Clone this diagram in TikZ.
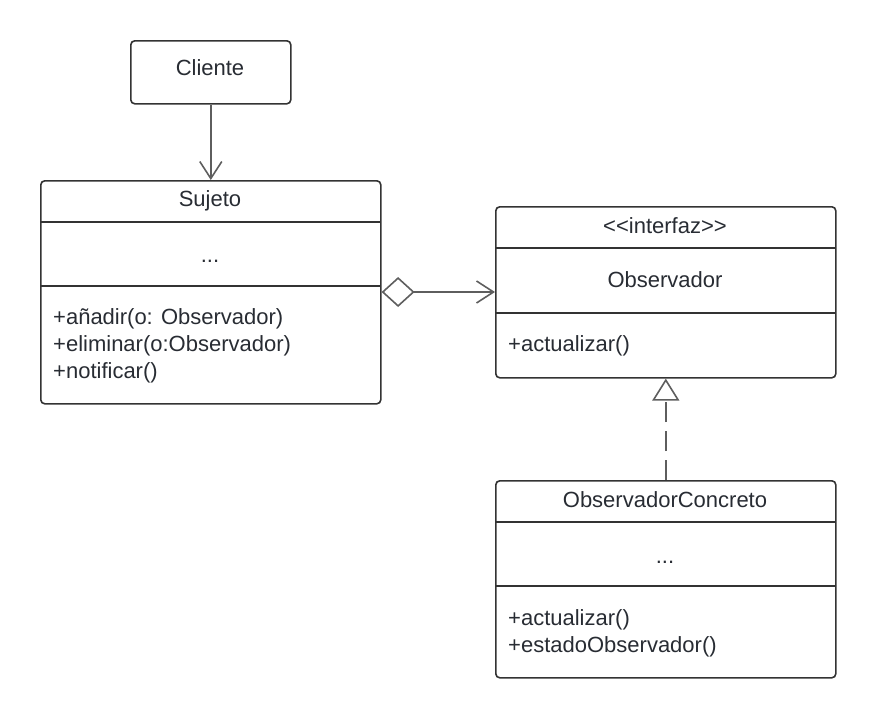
\documentclass[tikz,border=0pt]{standalone}
\usepackage{fontspec}
\setmainfont{Liberation Sans}
\usetikzlibrary{arrows.meta}

\definecolor{umlline}{HTML}{333333}
\definecolor{umltext}{HTML}{282C33}
\definecolor{umlconn}{HTML}{5E5E5E}

\begin{document}
\begin{tikzpicture}[x=1pt, y=-1pt]
        \tikzstyle{classbox} = [rectangle, rounded corners=4pt, draw=umlline, line width=1.6pt, anchor=north west, inner sep=0pt];
        \tikzstyle{label} = [text=umltext, font=\fontsize{22}{27}\selectfont, inner sep=0pt];
        \tikzstyle{members} = [label, align=left, anchor=north west];
        \tikzstyle{sepline} = [draw=umlline, line width=1.6pt];
        \tikzstyle{arrow} = [draw=umlconn, line width=1.6pt, -{Straight Barb[length=17pt, width=22pt]}];

        \useasboundingbox (0,0) rectangle (876,718);

        % Cliente
        \node(cliente) [classbox, minimum width=160pt, minimum height=63pt] at (130,40) {};
        \node(clientetxt) [label] at (210,68) {Cliente};

        % Sujeto
        \node(sujeto) [classbox, minimum width=340pt, minimum height=223pt] at (40,180) {};
        \draw[sepline] (40,222) -- (380,222);
        \draw[sepline] (40,286) -- (380,286);
        \node(sujetotit) [label] at (210,201) {Sujeto};
        \node(sujetoatr) [label] at (210,261) {...};
        \node(sujetomet) [members] at (53,308) {+añadir(o: Observador)\\+eliminar(o:Observador)\\+notificar()};

        % Observador
        \node(observador) [classbox, minimum width=340pt, minimum height=171pt] at (495,206) {};
        \draw[sepline] (495,248) -- (835,248);
        \draw[sepline] (495,313) -- (835,313);
        \node(observadorst) [label] at (665,226) {{<}{<}interfaz{>}{>}};
        \node(observadortit) [label] at (665,280) {Observador};
        \node(observadormet) [members] at (508,335) {+actualizar()};

        % ObservadorConcreto
        \node(concreto) [classbox, minimum width=340pt, minimum height=197pt] at (495,480) {};
        \draw[sepline] (495,522) -- (835,522);
        \draw[sepline] (495,586) -- (835,586);
        \node(concretotit) [label] at (665,500) {ObservadorConcreto};
        \node(concretoatr) [label] at (665,562) {...};
        \node(concretomet) [members] at (508,609) {+actualizar()\\+estadoObservador()};

        % connectors
        \draw[arrow] (cliente.south) -- (sujeto.north);
        \draw[arrow, {Diamond[open, length=33pt, width=30pt, fill=white]}-{Straight Barb[length=17pt, width=22pt]}] (sujeto.east |- 0,292) -- (observador.west |- 0,292);
        \draw[draw=umlconn, line width=1.6pt, dash pattern=on 20pt off 9pt, -{Triangle[open, length=22pt, width=27pt, fill=white]}] (concreto.north) -- (observador.south);

    \end{tikzpicture}
\end{document}
